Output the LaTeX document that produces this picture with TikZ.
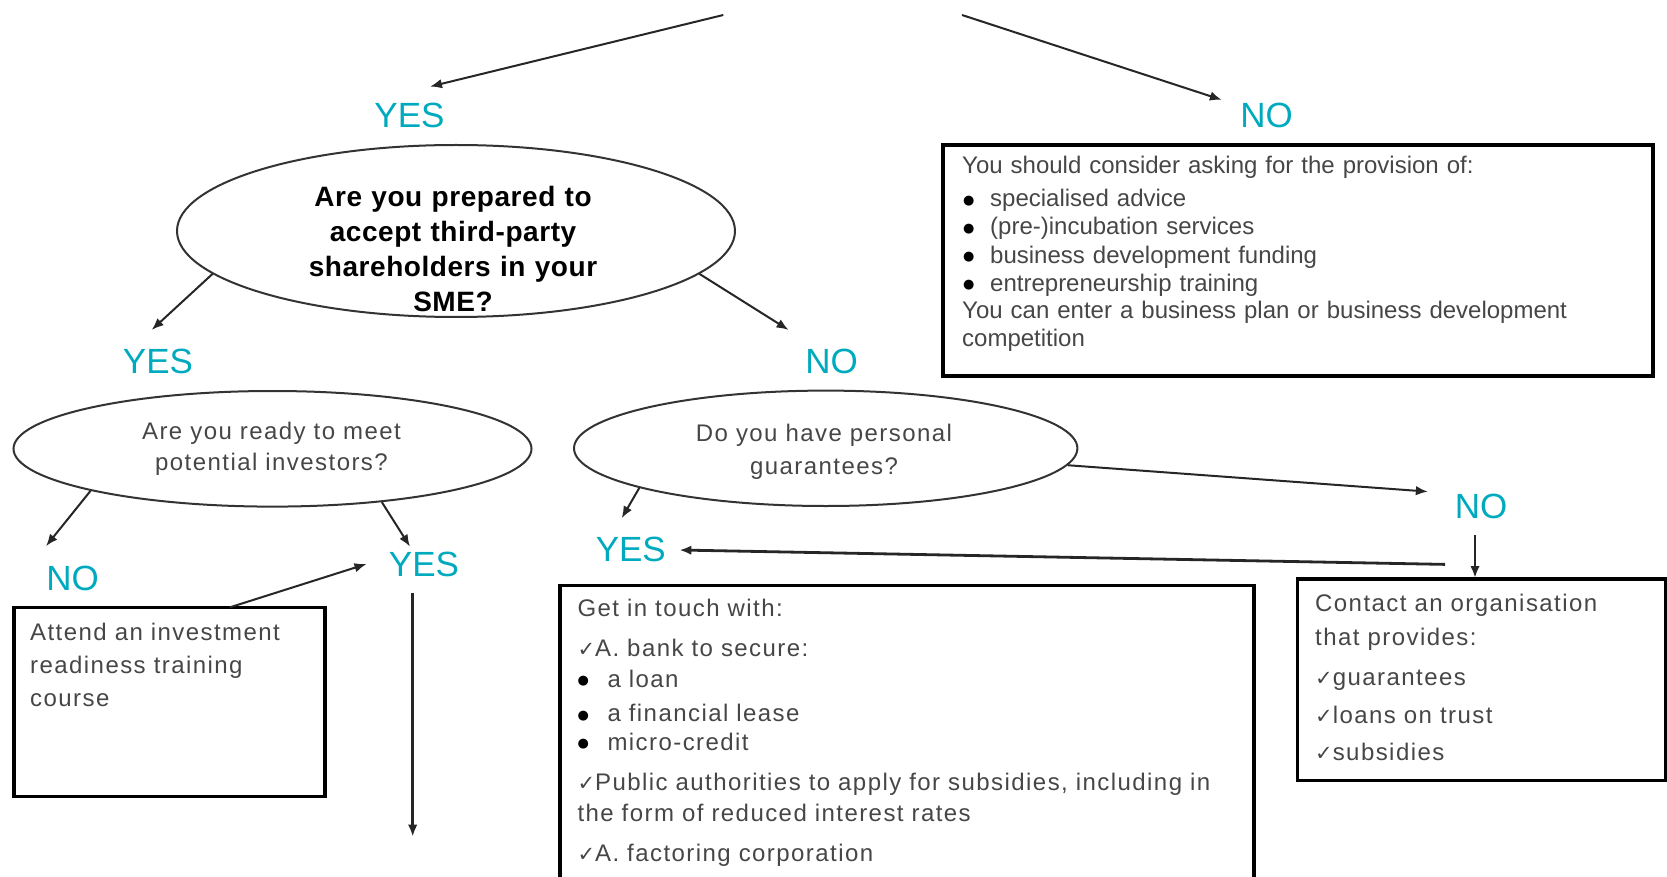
\documentclass[tikz,border=0pt]{standalone}
\usepackage{fontspec}
\setmainfont{Liberation Sans}
\newfontfamily\spacedfont[LetterSpace=6]{Liberation Sans}
\newfontfamily\headfont[LetterSpace=2]{Liberation Sans}
\newfontfamily\symbolfont{DejaVu Sans}
\usetikzlibrary{shapes.geometric,arrows.meta}
\definecolor{answercol}{RGB}{0,170,190}
\definecolor{bodycol}{RGB}{70,70,70}
% tick used in front of list entries
\newcommand\cmark{{\symbolfont\fontsize{21pt}{21pt}\selectfont\char"2713}}
% bullet with indent #1 and bullet box width #2
\newcommand\bitem[2]{\hspace*{#1}\makebox[#2][l]{\raisebox{2.6pt}{\textcolor{black}{\symbolfont\fontsize{13pt}{13pt}\selectfont\char"25CF}}}}
\tikzset{
  answer/.style={text=answercol, font=\fontsize{35pt}{35pt}\selectfont, inner sep=0pt},
  question/.style={ellipse, draw=black!80, line width=2pt, inner sep=0pt},
  panel/.style={rectangle, draw=black, line width=3.2pt, inner sep=0pt, outer sep=0pt, anchor=north west},
  paneltext/.style={anchor=base west, inner sep=0pt, text=bodycol, align=left},
  qtext/.style={anchor=base, inner sep=0pt, align=center},
  flow/.style={draw=black!85, line width=2pt, -{Latex[length=12pt,width=9.5pt]}},
  heavyflow/.style={flow, line width=2.8pt}
}
\begin{document}
\begin{tikzpicture}[x=1pt,y=-1pt]
\useasboundingbox (0,0) rectangle (1667,877);
\clip (0,0) rectangle (1667,877);

% question ellipses
\node[question, minimum width=558pt, minimum height=172pt] (e1) at (456,231) {};
\node[question, minimum width=518pt, minimum height=115.6pt] (e2) at (272.5,448.8) {};
\node[question, minimum width=503.4pt, minimum height=115.4pt] (e3) at (825.7,448.3) {};

\node[qtext, text width=340pt, font={\headfont\bfseries\fontsize{28pt}{35pt}\selectfont}] (e1txt) at (453,206.7)
  {Are you prepared to\\accept third-party\\shareholders in your\\SME?};
\node[qtext, text width=320pt, text=bodycol, font={\spacedfont\fontsize{24pt}{31.4pt}\selectfont}] (e2txt) at (271.5,439.3)
  {Are you ready to meet\\potential investors?};
\node[qtext, text width=320pt, text=bodycol, font={\spacedfont\fontsize{24pt}{32.3pt}\selectfont}] (e3txt) at (824,441.7)
  {Do you have personal\\guarantees?};

% answer labels
\node[answer] (yesA) at (409.5,115.7) {YES};
\node[answer] (noA)  at (1266.7,115.8) {NO};
\node[answer] (yesB) at (158,361) {YES};
\node[answer] (noB)  at (831.7,361) {NO};
\node[answer] (noC)  at (72.5,578.7) {NO};
\node[answer] (yesC) at (424,564.7) {YES};
\node[answer] (yesD) at (630.8,549.7) {YES};
\node[answer] (noD)  at (1481,506.5) {NO};

% advice panels
\node[panel, minimum width=710pt, minimum height=231pt] (b1) at (943,145) {};
\node[panel, minimum width=311pt, minimum height=189.4pt] (b2) at (14,607.3) {};
\node[panel, minimum width=694pt, minimum height=330pt] (b3) at (560,585.7) {};
\node[panel, minimum width=368pt, minimum height=201.7pt] (b4) at (1297.7,579) {};

\node[paneltext, text width=680pt, font={\fontsize{24pt}{28.3pt}\selectfont}] (b1txt) at (962,174)
  {You should consider asking for the provision of:\\[4.4pt]
   \bitem{1pt}{27pt}specialised advice\\
   \bitem{1pt}{27pt}(pre-)incubation services\\
   \bitem{1pt}{27pt}business development funding\\
   \bitem{1pt}{27pt}entrepreneurship training\\[-1.6pt]
   You can enter a business plan or business development\\
   competition};

\node[paneltext, text width=285pt, font={\spacedfont\fontsize{24pt}{32.7pt}\selectfont}] (b2txt) at (30,640.7)
  {Attend an investment\\readiness training\\course};

\node[paneltext, text width=665pt, font={\spacedfont\fontsize{24pt}{31.5pt}\selectfont}] (b3txt) at (577.3,616)
  {Get in touch with:\\[8.5pt]
   \cmark A. bank to secure:\\
   \bitem{0pt}{30pt}a loan\\[2.9pt]
   \bitem{0pt}{30pt}a financial lease\\[-3.2pt]
   \bitem{0pt}{30pt}micro-credit\\[8.5pt]
   \cmark Public authorities to apply for subsidies, including in\\
   the form of reduced interest rates\\[8.5pt]
   \cmark A. factoring corporation};

\node[paneltext, text width=345pt, font={\spacedfont\fontsize{24pt}{33.3pt}\selectfont}] (b4txt) at (1315,611.7)
  {Contact an organisation\\
   that provides:\\[6.7pt]
   \cmark guarantees\\[5pt]
   \cmark loans on trust\\[3.4pt]
   \cmark subsidies};

% loose ends of the flow
\coordinate (startL) at (723.3,15);
\coordinate (startR) at (962,15);
\coordinate (exitY) at (412.7,836.7);

% connectors
\draw[flow] (startL) -- ([shift={(20.5,-16.5)}]yesA.north);
\draw[flow] (startR) -- ([shift={(-18.4,-3.3)}]noA.north west);
\draw[flow] (e1.190) -- ([shift={(-6.3,-18.5)}]yesB.north);
\draw[flow] (e1.350) -- ([shift={(-16.7,-18.5)}]noB.north west);
\draw[flow] (e2.193) -- ([shift={(0,-20)}]noC.north west);
\draw[flow] (e2.334) -- ([shift={(-14,-5.5)}]yesC.north);
\draw[flow] ([shift={(216,0)}]b2.north west) -- ([shift={(-22.3,-0.7)}]yesC.west);
\draw[heavyflow] ([shift={(-11.3,15.5)}]yesC.south) -- (exitY);
\draw[flow] (e3.192) -- ([shift={(-9.1,-18.9)}]yesD.north);
\draw[flow] (e3.356) -- ([shift={(-26.7,-2.3)}]noD.north west);
\draw[heavyflow] ([shift={(-36,45.3)}]noD.south) -- ([shift={(13.3,0.3)}]yesD.east);
\draw[heavyflow] ([shift={(-6,16)}]noD.south) -- ([shift={(-6.7,-1)}]b4.north);
\end{tikzpicture}
\end{document}
